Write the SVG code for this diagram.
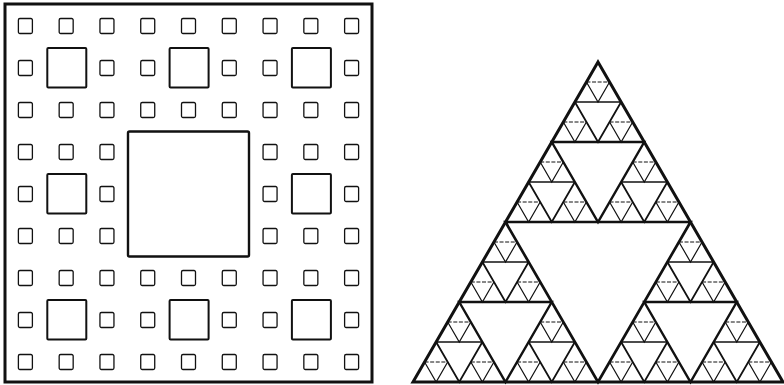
<svg xmlns="http://www.w3.org/2000/svg" width="784" height="385" viewBox="0 0 784 385">
<style>
.bg{fill:#ffffff}
.ln{fill:none;stroke:#111;stroke-linejoin:miter}
.outer{stroke-width:3}
.big{stroke-width:2.4}
.med{stroke-width:2}
.sm{stroke-width:1.3}
.t0{stroke-width:3}
.t1{stroke-width:2.7}
.t2{stroke-width:2.4}
.s3{stroke-width:1.8}
.h3{stroke-width:1.3}
.s4{stroke-width:1.2}
.h4{stroke-width:1;stroke-dasharray:4 1.6}
</style>
<defs>
<rect id="sq" class="ln sm" x="-7" y="-7.5" width="14" height="15" rx="1.5"/>
<rect id="mq" class="ln med" x="0" y="0" width="39" height="39.5" rx="1"/>
<polygon id="hole2" class="ln t2" points="-46.25,80 46.25,80 0,160"/>
<g id="hole3">
<path class="ln s3" d="M-23.125,40 L0,80 L23.125,40"/>
<line class="ln h3" x1="-23.125" y1="40" x2="23.125" y2="40"/>
</g>
<g id="hole4">
<path class="ln s4" d="M-11.5625,20 L0,40 L11.5625,20"/>
<line class="ln h4" x1="-11.5625" y1="20" x2="11.5625" y2="20"/>
</g>
</defs>
<rect class="bg" x="0" y="0" width="784" height="385"/>
<g id="carpet">
<rect class="ln outer" x="5" y="4" width="367" height="378"/>
<rect class="ln big" x="128" y="131.5" width="121" height="125" rx="1.5"/>
<g id="carpet-medium">
<use href="#mq" x="47.3" y="48"/>
<use href="#mq" x="169.6" y="48"/>
<use href="#mq" x="291.9" y="48"/>
<use href="#mq" x="47.3" y="174"/>
<use href="#mq" x="291.9" y="174"/>
<use href="#mq" x="47.3" y="300"/>
<use href="#mq" x="169.6" y="300"/>
<use href="#mq" x="291.9" y="300"/>
</g>
<g id="carpet-small">
<!-- row 0 -->
<use href="#sq" x="25.39" y="26"/><use href="#sq" x="66.17" y="26"/><use href="#sq" x="106.95" y="26"/><use href="#sq" x="147.73" y="26"/><use href="#sq" x="188.5" y="26"/><use href="#sq" x="229.28" y="26"/><use href="#sq" x="270.06" y="26"/><use href="#sq" x="310.84" y="26"/><use href="#sq" x="351.61" y="26"/>
<!-- row 1 -->
<use href="#sq" x="25.39" y="68"/><use href="#sq" x="106.95" y="68"/><use href="#sq" x="147.73" y="68"/><use href="#sq" x="229.28" y="68"/><use href="#sq" x="270.06" y="68"/><use href="#sq" x="351.61" y="68"/>
<!-- row 2 -->
<use href="#sq" x="25.39" y="110"/><use href="#sq" x="66.17" y="110"/><use href="#sq" x="106.95" y="110"/><use href="#sq" x="147.73" y="110"/><use href="#sq" x="188.5" y="110"/><use href="#sq" x="229.28" y="110"/><use href="#sq" x="270.06" y="110"/><use href="#sq" x="310.84" y="110"/><use href="#sq" x="351.61" y="110"/>
<!-- row 3 -->
<use href="#sq" x="25.39" y="152"/><use href="#sq" x="66.17" y="152"/><use href="#sq" x="106.95" y="152"/><use href="#sq" x="270.06" y="152"/><use href="#sq" x="310.84" y="152"/><use href="#sq" x="351.61" y="152"/>
<!-- row 4 -->
<use href="#sq" x="25.39" y="194"/><use href="#sq" x="106.95" y="194"/><use href="#sq" x="270.06" y="194"/><use href="#sq" x="351.61" y="194"/>
<!-- row 5 -->
<use href="#sq" x="25.39" y="236"/><use href="#sq" x="66.17" y="236"/><use href="#sq" x="106.95" y="236"/><use href="#sq" x="270.06" y="236"/><use href="#sq" x="310.84" y="236"/><use href="#sq" x="351.61" y="236"/>
<!-- row 6 -->
<use href="#sq" x="25.39" y="278"/><use href="#sq" x="66.17" y="278"/><use href="#sq" x="106.95" y="278"/><use href="#sq" x="147.73" y="278"/><use href="#sq" x="188.5" y="278"/><use href="#sq" x="229.28" y="278"/><use href="#sq" x="270.06" y="278"/><use href="#sq" x="310.84" y="278"/><use href="#sq" x="351.61" y="278"/>
<!-- row 7 -->
<use href="#sq" x="25.39" y="320"/><use href="#sq" x="106.95" y="320"/><use href="#sq" x="147.73" y="320"/><use href="#sq" x="229.28" y="320"/><use href="#sq" x="270.06" y="320"/><use href="#sq" x="351.61" y="320"/>
<!-- row 8 -->
<use href="#sq" x="25.39" y="362"/><use href="#sq" x="66.17" y="362"/><use href="#sq" x="106.95" y="362"/><use href="#sq" x="147.73" y="362"/><use href="#sq" x="188.5" y="362"/><use href="#sq" x="229.28" y="362"/><use href="#sq" x="270.06" y="362"/><use href="#sq" x="310.84" y="362"/><use href="#sq" x="351.61" y="362"/>
</g>
</g>
<g id="sierpinski">
<g id="tri-level4">
<use href="#hole4" x="598" y="62"/><use href="#hole4" x="574.875" y="102"/><use href="#hole4" x="621.125" y="102"/>
<use href="#hole4" x="551.75" y="142"/><use href="#hole4" x="528.625" y="182"/><use href="#hole4" x="574.875" y="182"/>
<use href="#hole4" x="644.25" y="142"/><use href="#hole4" x="621.125" y="182"/><use href="#hole4" x="667.375" y="182"/>
<use href="#hole4" x="505.5" y="222"/><use href="#hole4" x="482.375" y="262"/><use href="#hole4" x="528.625" y="262"/>
<use href="#hole4" x="459.25" y="302"/><use href="#hole4" x="436.125" y="342"/><use href="#hole4" x="482.375" y="342"/>
<use href="#hole4" x="551.75" y="302"/><use href="#hole4" x="528.625" y="342"/><use href="#hole4" x="574.875" y="342"/>
<use href="#hole4" x="690.5" y="222"/><use href="#hole4" x="667.375" y="262"/><use href="#hole4" x="713.625" y="262"/>
<use href="#hole4" x="644.25" y="302"/><use href="#hole4" x="621.125" y="342"/><use href="#hole4" x="667.375" y="342"/>
<use href="#hole4" x="736.75" y="302"/><use href="#hole4" x="713.625" y="342"/><use href="#hole4" x="759.875" y="342"/>
</g>
<g id="tri-level3">
<use href="#hole3" x="598" y="62"/><use href="#hole3" x="551.75" y="142"/><use href="#hole3" x="644.25" y="142"/>
<use href="#hole3" x="505.5" y="222"/><use href="#hole3" x="459.25" y="302"/><use href="#hole3" x="551.75" y="302"/>
<use href="#hole3" x="690.5" y="222"/><use href="#hole3" x="644.25" y="302"/><use href="#hole3" x="736.75" y="302"/>
</g>
<g id="tri-level2">
<use href="#hole2" x="598" y="62"/><use href="#hole2" x="505.5" y="222"/><use href="#hole2" x="690.5" y="222"/>
</g>
<polygon id="tri-level1" class="ln t1" points="505.5,222 690.5,222 598,382"/>
<polygon id="tri-outer" class="ln t0" points="598,62 413,382 783,382"/>
</g>
</svg>
